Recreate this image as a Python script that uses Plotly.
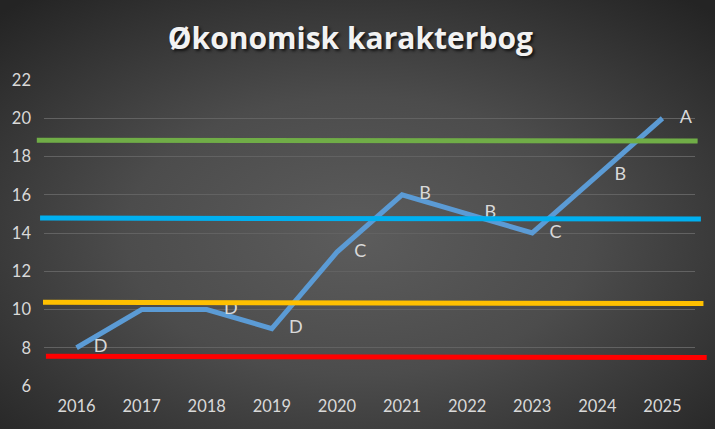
import base64
import plotly.graph_objects as go

# ---- data ----
years = ["2016", "2017", "2018", "2019", "2020", "2021", "2022", "2023", "2024", "2025"]
scores = [8, 10, 10, 9, 13, 16, 15, 14, 17, 20]
grades = ["D", "", "D", "D", "C", "B", "B", "C", "B", "A"]

# threshold lines (value at left end, value at right end)
thr_names = ["A-grænse", "B-grænse", "C-grænse", "D-grænse"]
thr_left = [18.85, 14.78, 10.38, 7.55]
thr_right = [18.81, 14.73, 10.31, 7.49]
thr_colors = ["#70AD47", "#00B0F0", "#FFC000", "#FF0000"]
thr_x0 = [-0.011, -0.006, -0.0015, 0.003]
thr_x1 = [1.004, 1.009, 1.013, 1.018]

y_ticks = [6, 8, 10, 12, 14, 16, 18, 20, 22]

W, H = 715, 429
L, R, T, B = 44, 20, 80, 43

fig = go.Figure()
fig.add_trace(go.Scatter(
    x=years, y=scores, mode="lines+markers+text", text=grades,
    textposition="middle right",
    textfont=dict(family="Lato, sans-serif", size=18, color="#D9D9D9"),
    line=dict(color="#5B9BD5", width=5),
    marker=dict(size=26, color="rgba(0,0,0,0)"),
    cliponaxis=False, showlegend=False, hoverinfo="x+y",
))

shapes = []
for v0, v1, c, a, b in zip(thr_left, thr_right, thr_colors, thr_x0, thr_x1):
    shapes.append(dict(type="line", xref="paper", yref="y", x0=a, x1=b, y0=v0, y1=v1,
                       line=dict(color=c, width=5), layer="above"))

svg = f'''<svg xmlns="http://www.w3.org/2000/svg" width="{W}" height="{H}" viewBox="0 0 {W} {H}" preserveAspectRatio="none">
<defs><radialGradient id="g" cx="50%" cy="55%" r="72%">
<stop offset="0" stop-color="#5c5c5c"/><stop offset="0.45" stop-color="#4c4c4c"/><stop offset="1" stop-color="#242424"/>
</radialGradient></defs><rect width="{W}" height="{H}" fill="url(#g)"/></svg>'''
src = "data:image/svg+xml;base64," + base64.b64encode(svg.encode()).decode()

pw = W - L - R
ph = H - T - B
fig.update_layout(
    width=W, height=H,
    margin=dict(l=L, r=R, t=T, b=B),
    paper_bgcolor="#333333",
    plot_bgcolor="rgba(0,0,0,0)",
    shapes=shapes,
    images=[dict(source=src, xref="paper", yref="paper", x=-L / pw, y=1 + T / ph,
                 sizex=W / pw, sizey=H / ph, sizing="stretch", layer="below",
                 xanchor="left", yanchor="top")],
    title=dict(text="<b>Økonomisk karakterbog</b>", x=0.49, xanchor="center", y=0.91, yanchor="middle",
               font=dict(family="Open Sans, sans-serif", size=30, color="#F2F2F2",
                         shadow="2px 2px 3px rgba(0,0,0,0.7)")),
    xaxis=dict(type="category", range=[-0.5, 9.5], showgrid=False, showline=False, zeroline=False,
               tickfont=dict(family="Lato, sans-serif", size=16.5, color="#D9D9D9"),
               ticks="", ticklabelstandoff=8),
    yaxis=dict(range=[6, 22], tickvals=y_ticks, showgrid=True, gridcolor="#626262", gridwidth=1,
               zeroline=False, showline=False,
               tickfont=dict(family="Lato, sans-serif", size=16.5, color="#D9D9D9"),
               ticks="", ticklabelstandoff=12),
)
fig.write_html("out.html", config={"displayModeBar": False},
               post_script="document.body.style.margin='0';")
